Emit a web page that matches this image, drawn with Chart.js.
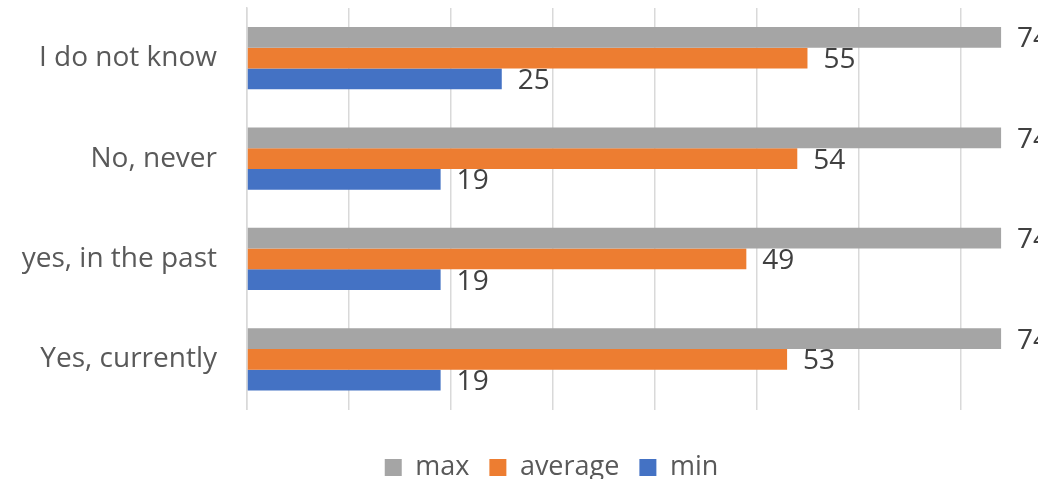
<!DOCTYPE html>
<html>
<head>
<meta charset="utf-8">
<script src="https://cdn.jsdelivr.net/npm/chart.js@4/dist/chart.umd.min.js"></script>
<style>
  html, body { margin: 0; padding: 0; background: #fff; overflow: hidden; }
  #wrap { width: 1103px; height: 491px; position: relative; }
</style>
</head>
<body>
<div id="wrap"><canvas id="ageChart"></canvas></div>
<script>
const categories = ['I do not know', 'No, never', 'yes, in the past', 'Yes, currently'];
const maxValues = [74, 74, 74, 74];
const avgValues = [55, 54, 49, 53];
const minValues = [25, 19, 19, 19];

const FONT = '"Open Sans", "Liberation Sans", sans-serif';

// value labels to the right of each bar
const barLabels = {
  id: 'barLabels',
  afterDatasetsDraw(chart) {
    const ctx = chart.ctx;
    ctx.save();
    ctx.font = `28px ${FONT}`;
    ctx.fillStyle = '#404040';
    ctx.textAlign = 'left';
    ctx.textBaseline = 'middle';
    chart.data.datasets.forEach((ds, i) => {
      chart.getDatasetMeta(i).data.forEach((bar, j) => {
        ctx.fillText(String(ds.data[j]), bar.x + 16, bar.y + 2);
      });
    });
    ctx.restore();
  }
};

new Chart(document.getElementById('ageChart'), {
  type: 'bar',
  data: {
    labels: categories,
    datasets: [
      { label: 'max', data: maxValues, backgroundColor: '#A5A5A5' },
      { label: 'average', data: avgValues, backgroundColor: '#ED7D31' },
      { label: 'min', data: minValues, backgroundColor: '#4472C4' },
    ],
  },
  options: {
    indexAxis: 'y',
    responsive: true,
    maintainAspectRatio: false,
    animation: false,
    categoryPercentage: 0.62,
    barPercentage: 1.0,
    layout: { padding: { top: 8, right: 0, left: 0, bottom: 0 } },
    plugins: {
      tooltip: { enabled: false },
      legend: {
        position: 'bottom',
        labels: {
          font: { family: FONT, size: 27 },
          color: '#595959',
          boxWidth: 17,
          boxHeight: 17,
          padding: 20,
        },
      },
    },
    scales: {
      x: {
        min: 0,
        max: 84,
        ticks: { stepSize: 10, display: false },
        grid: { color: '#D9D9D9', lineWidth: 1.5, drawTicks: false },
        border: { display: false },
        afterFit: s => { s.height = 24.5; },
      },
      y: {
        afterFit: s => {
          s.width = 247;
          s.paddingTop = 0;
          s.paddingBottom = 0;
        },
        ticks: {
          font: { family: FONT, size: 28 },
          color: '#595959',
          padding: 30,
        },
        grid: { display: false, drawTicks: false },
        border: { display: true, color: '#D9D9D9', width: 1.5 },
      },
    },
  },
  plugins: [barLabels],
});
</script>
</body>
</html>
